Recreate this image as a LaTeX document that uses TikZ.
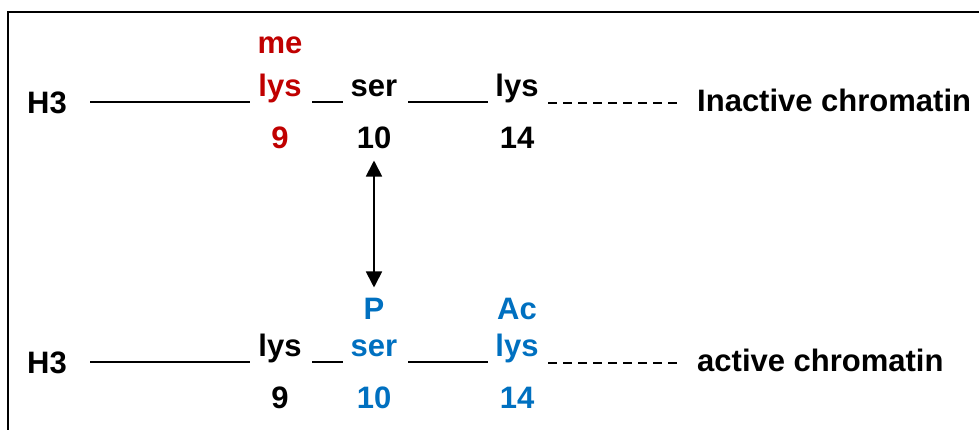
\documentclass[tikz,border=0pt]{standalone}
\usepackage{fontspec}
\setmainfont{Liberation Sans}
\usetikzlibrary{arrows.meta}
\definecolor{myred}{RGB}{192,0,0}
\definecolor{myblue}{RGB}{0,112,192}
\begin{document}
\begin{tikzpicture}[x=1pt,y=-1pt,
  lbl/.style={anchor=base,inner sep=0pt,font=\fontsize{31}{37}\selectfont\bfseries},
  lblw/.style={lbl,anchor=base west},
  seg/.style={line width=1.6pt},
  dseg/.style={line width=1.6pt,dash pattern=on 9pt off 6pt},
  frame/.style={line width=2pt}]
\useasboundingbox (0,0) rectangle (979,429);
% frame (only top and left edges visible)
\coordinate (f1) at (8,430);
\coordinate (f2) at (8,12);
\coordinate (f3) at (980,12);
\draw[frame] (f1) -- (f2) -- (f3);
% ---- top row: inactive chromatin
\node[lbl] (h3a) at (47,113) {H3};
\node[lbl,text=myred] (mea) at (280,53) {me};
\node[lbl,text=myred] (lysa) at (280,96) {lys};
\node[lbl,text=myred] (n9a) at (280,148) {9};
\node[lbl] (sera) at (374,96) {ser};
\node[lbl] (n10a) at (374,148) {10};
\node[lbl] (lysb) at (517,96) {lys};
\node[lbl] (n14a) at (517,148) {14};
\node[lblw] (inact) at (697,111) {Inactive chromatin};
\coordinate (a1) at (90,102);  \coordinate (a2) at (250,102);
\coordinate (a3) at (312,102); \coordinate (a4) at (343,102);
\coordinate (a5) at (408,102); \coordinate (a6) at (488,102);
\coordinate (a7) at (548,103); \coordinate (a8) at (678,103);
\draw[seg] (a1) -- (a2);
\draw[seg] (a3) -- (a4);
\draw[seg] (a5) -- (a6);
\draw[dseg] (a7) -- (a8);
% ---- bottom row: active chromatin
\node[lbl] (h3b) at (47,373) {H3};
\node[lbl] (lysc) at (280,356) {lys};
\node[lbl] (n9b) at (280,408) {9};
\node[lbl,text=myblue] (pb) at (374,319) {P};
\node[lbl,text=myblue] (serb) at (374,356) {ser};
\node[lbl,text=myblue] (n10b) at (374,408) {10};
\node[lbl,text=myblue] (acb) at (517,319) {Ac};
\node[lbl,text=myblue] (lysd) at (517,356) {lys};
\node[lbl,text=myblue] (n14b) at (517,408) {14};
\node[lblw] (act) at (697,371) {active chromatin};
\coordinate (b1) at (90,362);  \coordinate (b2) at (250,362);
\coordinate (b3) at (312,362); \coordinate (b4) at (343,362);
\coordinate (b5) at (408,362); \coordinate (b6) at (488,362);
\coordinate (b7) at (548,363); \coordinate (b8) at (678,363);
\draw[seg] (b1) -- (b2);
\draw[seg] (b3) -- (b4);
\draw[seg] (b5) -- (b6);
\draw[dseg] (b7) -- (b8);
% ---- double arrow
\draw[line width=1.8pt,
  {Triangle[length=16pt,width=16pt]}-{Triangle[length=16pt,width=16pt]},
  shorten <=12pt, shorten >=10pt] (n10a.south) -- (pb.north);
\end{tikzpicture}
\end{document}
